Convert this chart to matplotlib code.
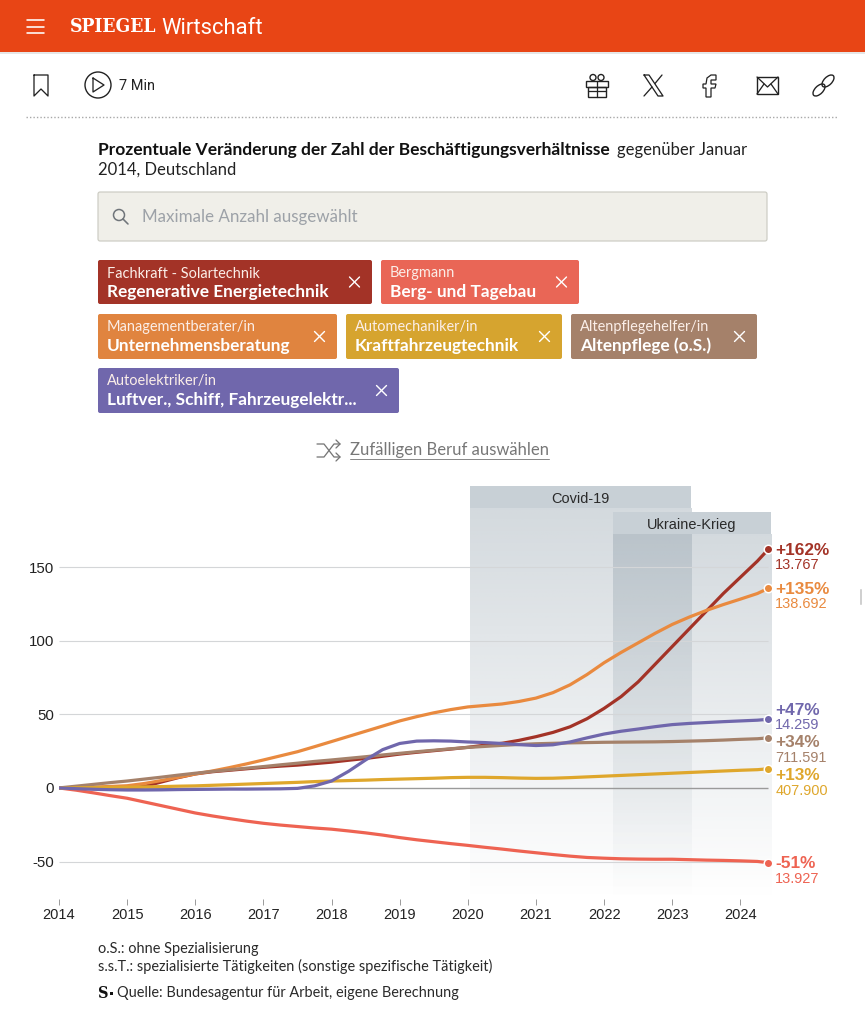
import numpy as np
import matplotlib
matplotlib.use("Agg")
import matplotlib.pyplot as plt
from matplotlib.patches import FancyBboxPatch, Rectangle, Circle, Ellipse, Polygon

plt.rcParams["axes.unicode_minus"] = False

UI_FONT = "Lato"
CHART_FONT = "Liberation Sans"

# quarter-year readings from Jan 2014, last value is the mid-2024 end point
quarters = [2014 + i / 4 for i in range(42)] + [2024.41]

solar = [0, -0.3, -0.4, -0.3, 0, 1, 4, 7, 9.5, 11, 12, 13, 14, 14.8, 15.5, 16.5, 17.5, 18.8, 20, 21.5,
         23, 24.2, 25.3, 26.4, 27.6, 29, 30.3, 32.3, 34.8, 37.7, 41.5, 47, 54, 62, 72, 84,
         96, 108, 120, 132, 143, 154, 162]
bergbau = [0, -1.5, -3.3, -5.2, -7, -9.5, -12, -14.5, -17, -19, -20.8, -22.5, -24, -25.2, -26.2, -27.2, -28, -29.2, -30.5, -32,
           -33.7, -35.2, -36.5, -37.8, -39, -40.3, -41.5, -42.8, -44, -45.2, -46.3, -47.2, -47.7, -48.1, -48.3, -48.4,
           -48.4, -48.7, -49, -49.2, -49.5, -49.9, -50.7]
beratung = [0, 0.3, 0.6, 1, 1.5, 3, 5, 7.2, 9.5, 11.5, 13.8, 16.3, 19, 21.8, 24.6, 28, 31.5, 35, 38.5, 42,
            45.5, 48.4, 51, 53.2, 55, 56, 57, 58.7, 61, 64.7, 70, 77, 85, 92, 98.5, 105,
            111, 116, 120.5, 124.5, 128.2, 132, 135.5]
kfz = [0, 0.1, 0.2, 0.4, 0.5, 0.7, 0.9, 1.2, 1.4, 1.8, 2.2, 2.6, 3, 3.4, 3.8, 4.3, 4.7, 5, 5.3, 5.7,
       6, 6.3, 6.6, 7, 7.2, 7.2, 7, 6.7, 6.5, 6.6, 7, 7.5, 8, 8.5, 9, 9.5,
       10, 10.5, 11, 11.5, 12, 12.4, 13]
pflege = [0, 1.2, 2.4, 3.6, 4.7, 6, 7.3, 8.7, 10, 11.2, 12.3, 13.4, 14.5, 15.7, 16.8, 18, 19, 20.1, 21.2, 22.4,
          23.5, 24.6, 25.6, 26.6, 27.5, 28.2, 28.9, 29.5, 30, 30.3, 30.6, 30.8, 31, 31.1, 31.2, 31.3,
          31.5, 31.8, 32.1, 32.5, 33, 33.4, 34]
elektro = [0, -0.5, -0.9, -1.2, -1.4, -1.4, -1.3, -1.1, -1, -0.9, -0.8, -0.8, -0.7, -0.6, -0.3, 1.4, 4.7, 11.3, 19, 26,
           30.2, 31.8, 32, 31.8, 31.2, 30.8, 30.2, 29.4, 28.8, 29.3, 31.2, 34, 36.6, 38.5, 40, 41.6,
           43, 43.8, 44.4, 45, 45.5, 46, 46.6]

series_names = ["solar", "bergbau", "beratung", "pflege", "kfz", "elektro"]
series_values = [solar, bergbau, beratung, pflege, kfz, elektro]
series_colors = ["#a33327", "#ee6352", "#e98a3f", "#a5816a", "#dfa72c", "#7067ac"]

end_pct = ["+162%", "-51%", "+135%", "+34%", "+13%", "+47%"]
end_count = ["13.767", "13.927", "138.692", "711.591", "407.900", "14.259"]
label_nudge = [1, 1, 1, 5, 7, -9]  # px, labels get pushed apart in the original

y_ticks = [-50, 0, 50, 100, 150]
x_ticks = list(range(2014, 2025))
covid_span = [2020.03, 2023.28]
ukraine_span = [2022.13, 2024.45]

tag_rows = [
    ("Fachkraft - Solartechnik", "Regenerative Energietechnik", "#a33327", 98, 372, 260, 304),
    ("Bergmann", "Berg- und Tagebau", "#e96656", 381, 579, 260, 304),
    ("Managementberater/in", "Unternehmensberatung", "#e0843f", 98, 337, 314, 359),
    ("Automechaniker/in", "Kraftfahrzeugtechnik", "#d6a42f", 346, 562, 314, 359),
    ("Altenpflegehelfer/in", "Altenpflege (o.S.)", "#a5816a", 571, 757, 314, 359),
    ("Autoelektriker/in", "Luftver., Schiff, Fahrzeugelektr...", "#7067ac", 98, 399, 368, 413),
]

fig = plt.figure(figsize=(8.65, 10.24), dpi=100, facecolor="white")

# page furniture is drawn in pixel coordinates
ui = fig.add_axes([0, 0, 1, 1])
ui.set_xlim(0, 865)
ui.set_ylim(1024, 0)
ui.axis("off")


def px(size):
    return size * 0.72


def txt(x, y, s, size, color="#222222", weight="normal", ha="left", family=UI_FONT, stretch="normal"):
    return ui.text(x, y, s, fontsize=px(size), color=color, fontweight=weight, ha=ha, va="center",
                   family=family, fontstretch=stretch)


def stroke(xs, ys, color="#222222", lw=1.3):
    ui.plot(xs, ys, color=color, lw=lw * 0.72, solid_capstyle="round", solid_joinstyle="round")


# top bar
ui.add_patch(Rectangle((0, 0), 865, 52, fc="#e84515", ec="none"))
ui.add_patch(Rectangle((0, 52), 865, 1.5, fc="#e6e6e6", ec="none"))
for y in [20, 26.5, 33]:
    stroke([27, 44], [y, y], "white", 1.6)
txt(70, 27, "SPIEGEL", 19.3, "white", "bold", family="DejaVu Serif", stretch="condensed")
txt(161, 28, "Wirtschaft", 22, "white", family="Roboto")

# action row
stroke([34, 34, 41, 48, 48, 34], [75, 96, 89, 96, 75, 75])
ui.add_patch(Circle((98, 85), 13, fc="none", ec="#222222", lw=1))
stroke([93, 93, 104, 93], [78, 92, 85, 78])
txt(119, 86, "7 Min", 14.5, family="Roboto")
# gift
ui.add_patch(Rectangle((586, 81), 22, 6, fc="none", ec="#222222", lw=1))
ui.add_patch(Rectangle((588, 87), 18, 10, fc="none", ec="#222222", lw=1))
stroke([597, 597], [81, 97])
stroke([588, 606], [91, 91])
ui.add_patch(Circle((593, 77.5), 3, fc="none", ec="#222222", lw=1))
ui.add_patch(Circle((601, 77.5), 3, fc="none", ec="#222222", lw=1))
# X
stroke([644, 649, 663, 658, 644], [75, 75, 96, 96, 75])
stroke([662, 655], [75, 83.5])
stroke([652, 644], [87, 96])
# f
ui.add_patch(Polygon([(716, 75), (711, 75), (707, 78), (706, 84), (703, 84), (703, 88), (706, 88), (706, 97),
                      (711, 97), (711, 88), (715, 88), (716, 84), (711, 84), (711, 80), (716, 80)],
                     closed=True, fc="none", ec="#222222", lw=0.9))
# mail
ui.add_patch(Rectangle((757, 77), 21, 17, fc="none", ec="#222222", lw=1))
stroke([757, 767.5, 778], [77, 87, 77])
stroke([757, 764], [94, 84])
stroke([778, 771], [94, 84])
# link
ui.add_patch(Ellipse((819, 90), 15, 8, angle=-45, fc="none", ec="#222222", lw=1))
ui.add_patch(Ellipse((828, 81), 15, 8, angle=-45, fc="none", ec="#222222", lw=1))
ui.plot([26, 838], [116.5, 116.5], color="#a8a8a8", lw=1, ls=(0, (1, 1.5)))

# title and search box
txt(98, 150.5, "Prozentuale Veränderung der Zahl der Beschäftigungsverhältnisse", 17.4, "#111111", "bold")
txt(617, 150.5, "gegenüber Januar", 16.6, "#222222")
txt(98, 170, "2014, Deutschland", 16.6, "#222222")
ui.add_patch(FancyBboxPatch((98, 192), 669, 49, boxstyle="round,pad=0,rounding_size=2",
                            fc="#f0efe9", ec="#c9c9c0", lw=0.8))
ui.add_patch(Circle((119, 215), 5.5, fc="none", ec="#70757a", lw=1.1))
stroke([123, 128], [219, 224], "#70757a", 1.6)
txt(142, 217, "Maximale Anzahl ausgewählt", 17, "#9da2a8")

# selected occupations
for sub, main, color, x0, x1, y0, y1 in tag_rows:
    ui.add_patch(FancyBboxPatch((x0, y0), x1 - x0, y1 - y0, boxstyle="round,pad=0,rounding_size=2",
                                fc=color, ec="none"))
    txt(x0 + 9, y0 + 13.5, sub, 14.5, "#fbeee8")
    txt(x0 + 9, y0 + 31.5, main, 17.25, "white", "bold")
    cx, cy = x1 - 17.5, (y0 + y1) / 2
    stroke([cx - 5, cx + 5], [cy - 5, cy + 5], "white", 1.4)
    stroke([cx - 5, cx + 5], [cy + 5, cy - 5], "white", 1.4)

# shuffle link
stroke([317, 324, 334, 340], [444, 444, 457, 457], "#777777", 1.3)
stroke([317, 324, 334, 340], [457, 457, 444, 444], "#777777", 1.3)
stroke([336, 340, 336], [440, 444, 448], "#777777", 1.3)
stroke([336, 340, 336], [453, 457, 461], "#777777", 1.3)
txt(350, 450.5, "Zufälligen Beruf auswählen", 16.6, "#777777")
stroke([350, 549], [459, 459], "#8a8a8a", 1)

# notes
txt(98, 949, "o.S.: ohne Spezialisierung", 14.5, "#2a2a2a")
txt(98, 966, "s.s.T.: spezialisierte Tätigkeiten (sonstige spezifische Tätigkeit)", 14.5, "#2a2a2a")
txt(98, 993, "S", 16, "#111111", "bold", family="DejaVu Serif", stretch="condensed")
ui.add_patch(Rectangle((110, 991.5), 3, 3, fc="#111111", ec="none"))
txt(117, 993.5, "Quelle: Bundesagentur für Arbeit, eigene Berechnung", 14.5, "#2a2a2a")
ui.add_patch(FancyBboxPatch((860, 589), 2, 16, boxstyle="round,pad=0,rounding_size=1", fc="#d0d0d0", ec="none"))

# chart, axes box is pixels 59-771 / 486-899
ax = fig.add_axes([59 / 865, 1 - 899 / 1024, 712 / 865, 413 / 1024])
ax.patch.set_alpha(0)
x_min, x_max = 2014, 2024.45
y_min, y_max = -75.4, 205
band_rgb = matplotlib.colors.to_rgb("#8a9aa6")


def band(span, top, header_top, label):
    fade = np.zeros((256, 1, 4))
    fade[:, 0, :3] = band_rgb
    fade[:, 0, 3] = np.linspace(0.37, 0, 256)
    ax.imshow(fade, extent=(span[0], span[1], y_min, top), aspect="auto", origin="upper", zorder=1)
    ax.add_patch(Rectangle((span[0], top), span[1] - span[0], header_top - top, fc="#c8d0d6", ec="none", zorder=2))
    ax.text(sum(span) / 2, (top + header_top) / 2 - 1.2, label, ha="center", va="center", color="#2a2a2a",
            fontsize=px(14.5), family=CHART_FONT, zorder=3)


band(covid_span, 190, 205, "Covid-19")
band(ukraine_span, 172.4, 187.4, "Ukraine-Krieg")

ax.hlines([t for t in y_ticks if t != 0], x_min, quarters[-1], color="#d4d6d8", lw=0.8, zorder=3)
ax.hlines(0, x_min, quarters[-1], color="#9a9a9a", lw=1, zorder=3)

for values, color, pct, count, nudge in zip(series_values, series_colors, end_pct, end_count, label_nudge):
    ax.plot(quarters, values, color=color, lw=px(3.2), solid_capstyle="round", solid_joinstyle="round", zorder=4)
    ax.plot(quarters[-1], values[-1], "o", ms=px(8.5), mfc=color, mec="white", mew=px(1.5), zorder=6, clip_on=False)
    ax.annotate(pct, (quarters[-1], values[-1]), xytext=(px(7), -px(nudge)), textcoords="offset points",
                color=color, fontsize=px(17.3), fontweight="bold", family=CHART_FONT, va="center", zorder=7,
                annotation_clip=False)
    ax.annotate(count, (quarters[-1], values[-1]), xytext=(px(7), -px(nudge + 15)), textcoords="offset points",
                color=color, fontsize=px(14.5), family=CHART_FONT, va="center", zorder=7, annotation_clip=False)

ax.set_xlim(x_min, x_max)
ax.set_ylim(y_min, y_max)
ax.set_xticks(x_ticks)
ax.set_yticks(y_ticks)
ax.tick_params(axis="x", length=px(6), width=0.7, color="#9a9a9a", pad=px(3), labelsize=px(14.6), labelcolor="#222222")
ax.tick_params(axis="y", length=0, pad=px(5), labelsize=px(15), labelcolor="#222222")
for label in ax.get_xticklabels() + ax.get_yticklabels():
    label.set_family(CHART_FONT)
for spine in ax.spines.values():
    spine.set_visible(False)

fig.savefig("out.png", dpi=100)
